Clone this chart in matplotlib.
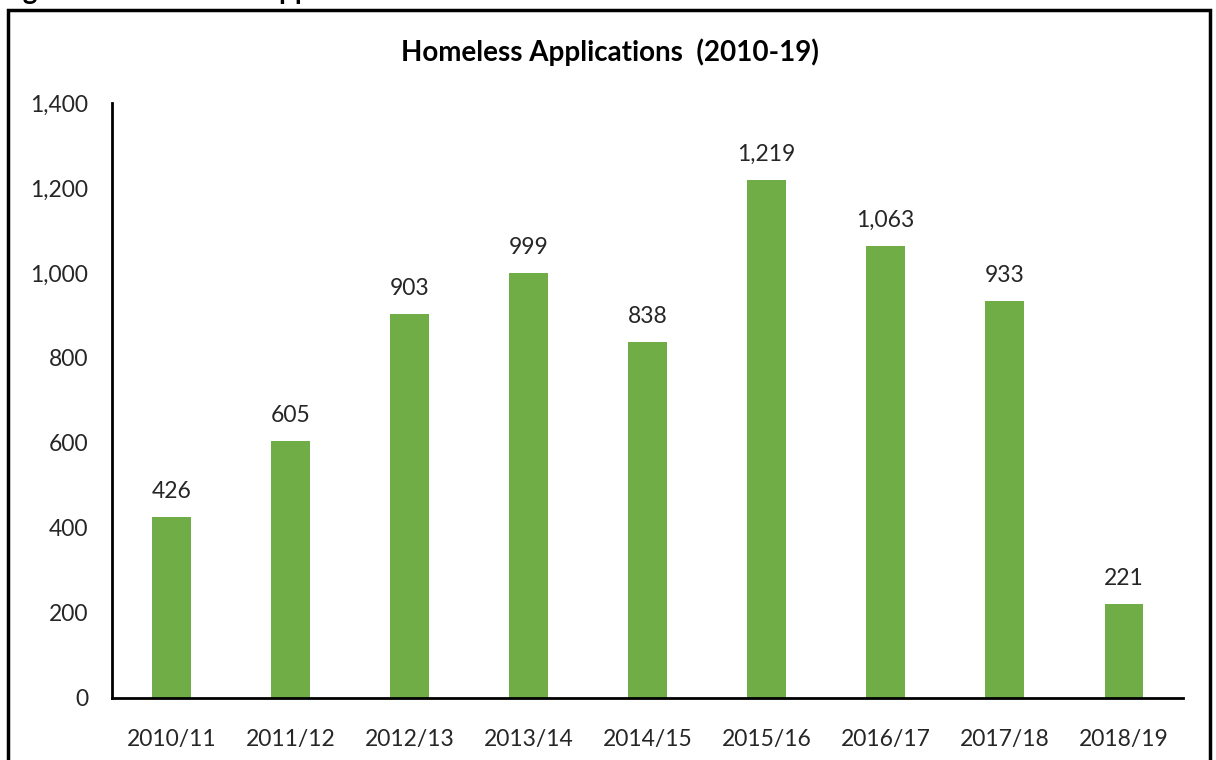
import matplotlib.pyplot as plt
from matplotlib.patches import Rectangle

plt.rcParams["font.family"] = ["Lato", "DejaVu Sans"]

years = ["2010/11", "2011/12", "2012/13", "2013/14", "2014/15",
         "2015/16", "2016/17", "2017/18", "2018/19"]
applications = [426, 605, 903, 999, 838, 1219, 1063, 933, 221]
yticks = [0, 200, 400, 600, 800, 1000, 1200, 1400]

fig = plt.figure(figsize=(12.16, 7.6), dpi=100)
ax = fig.add_axes([0.0921, 0.0816, 0.8808, 0.7829])

x = range(len(years))
bars = ax.bar(x, applications, width=0.32, color="#70AD47")
ax.bar_label(bars, labels=[f"{v:,}" for v in applications], padding=11,
             fontsize=16.5, color="#262626")

ax.set_xlim(-0.5, len(years) - 0.5)
ax.set_ylim(0, 1400)
ax.set_xticks(list(x))
ax.set_xticklabels(years)
ax.set_yticks(yticks)
ax.set_yticklabels([f"{t:,}" for t in yticks])
ax.tick_params(length=0, labelsize=16.5, labelcolor="#262626")
ax.tick_params(axis="x", pad=22)
ax.tick_params(axis="y", pad=17)

for side in ["top", "right"]:
    ax.spines[side].set_visible(False)
for side in ["left", "bottom"]:
    ax.spines[side].set_linewidth(2)
    ax.spines[side].set_color("black")

fig.text(0.502, 0.931, "Homeless Applications  (2010-19)", ha="center",
         va="center", fontsize=20, fontweight="bold")

# chart frame, bottom edge runs off the page
fig.patches.append(Rectangle((8 / 1216, -0.05), 1202 / 1216, 1.05 - 10 / 760,
                             transform=fig.transFigure, fill=False,
                             edgecolor="black", linewidth=2.5))

# caption above the frame, only its descenders fall on the page
fig.text(0.0, 1.0 + 1 / 760, "Figure 10: Homeless Applications 2010-19",
         ha="left", va="baseline", fontsize=20, fontweight="bold")

fig.savefig("out.png", dpi=100)
